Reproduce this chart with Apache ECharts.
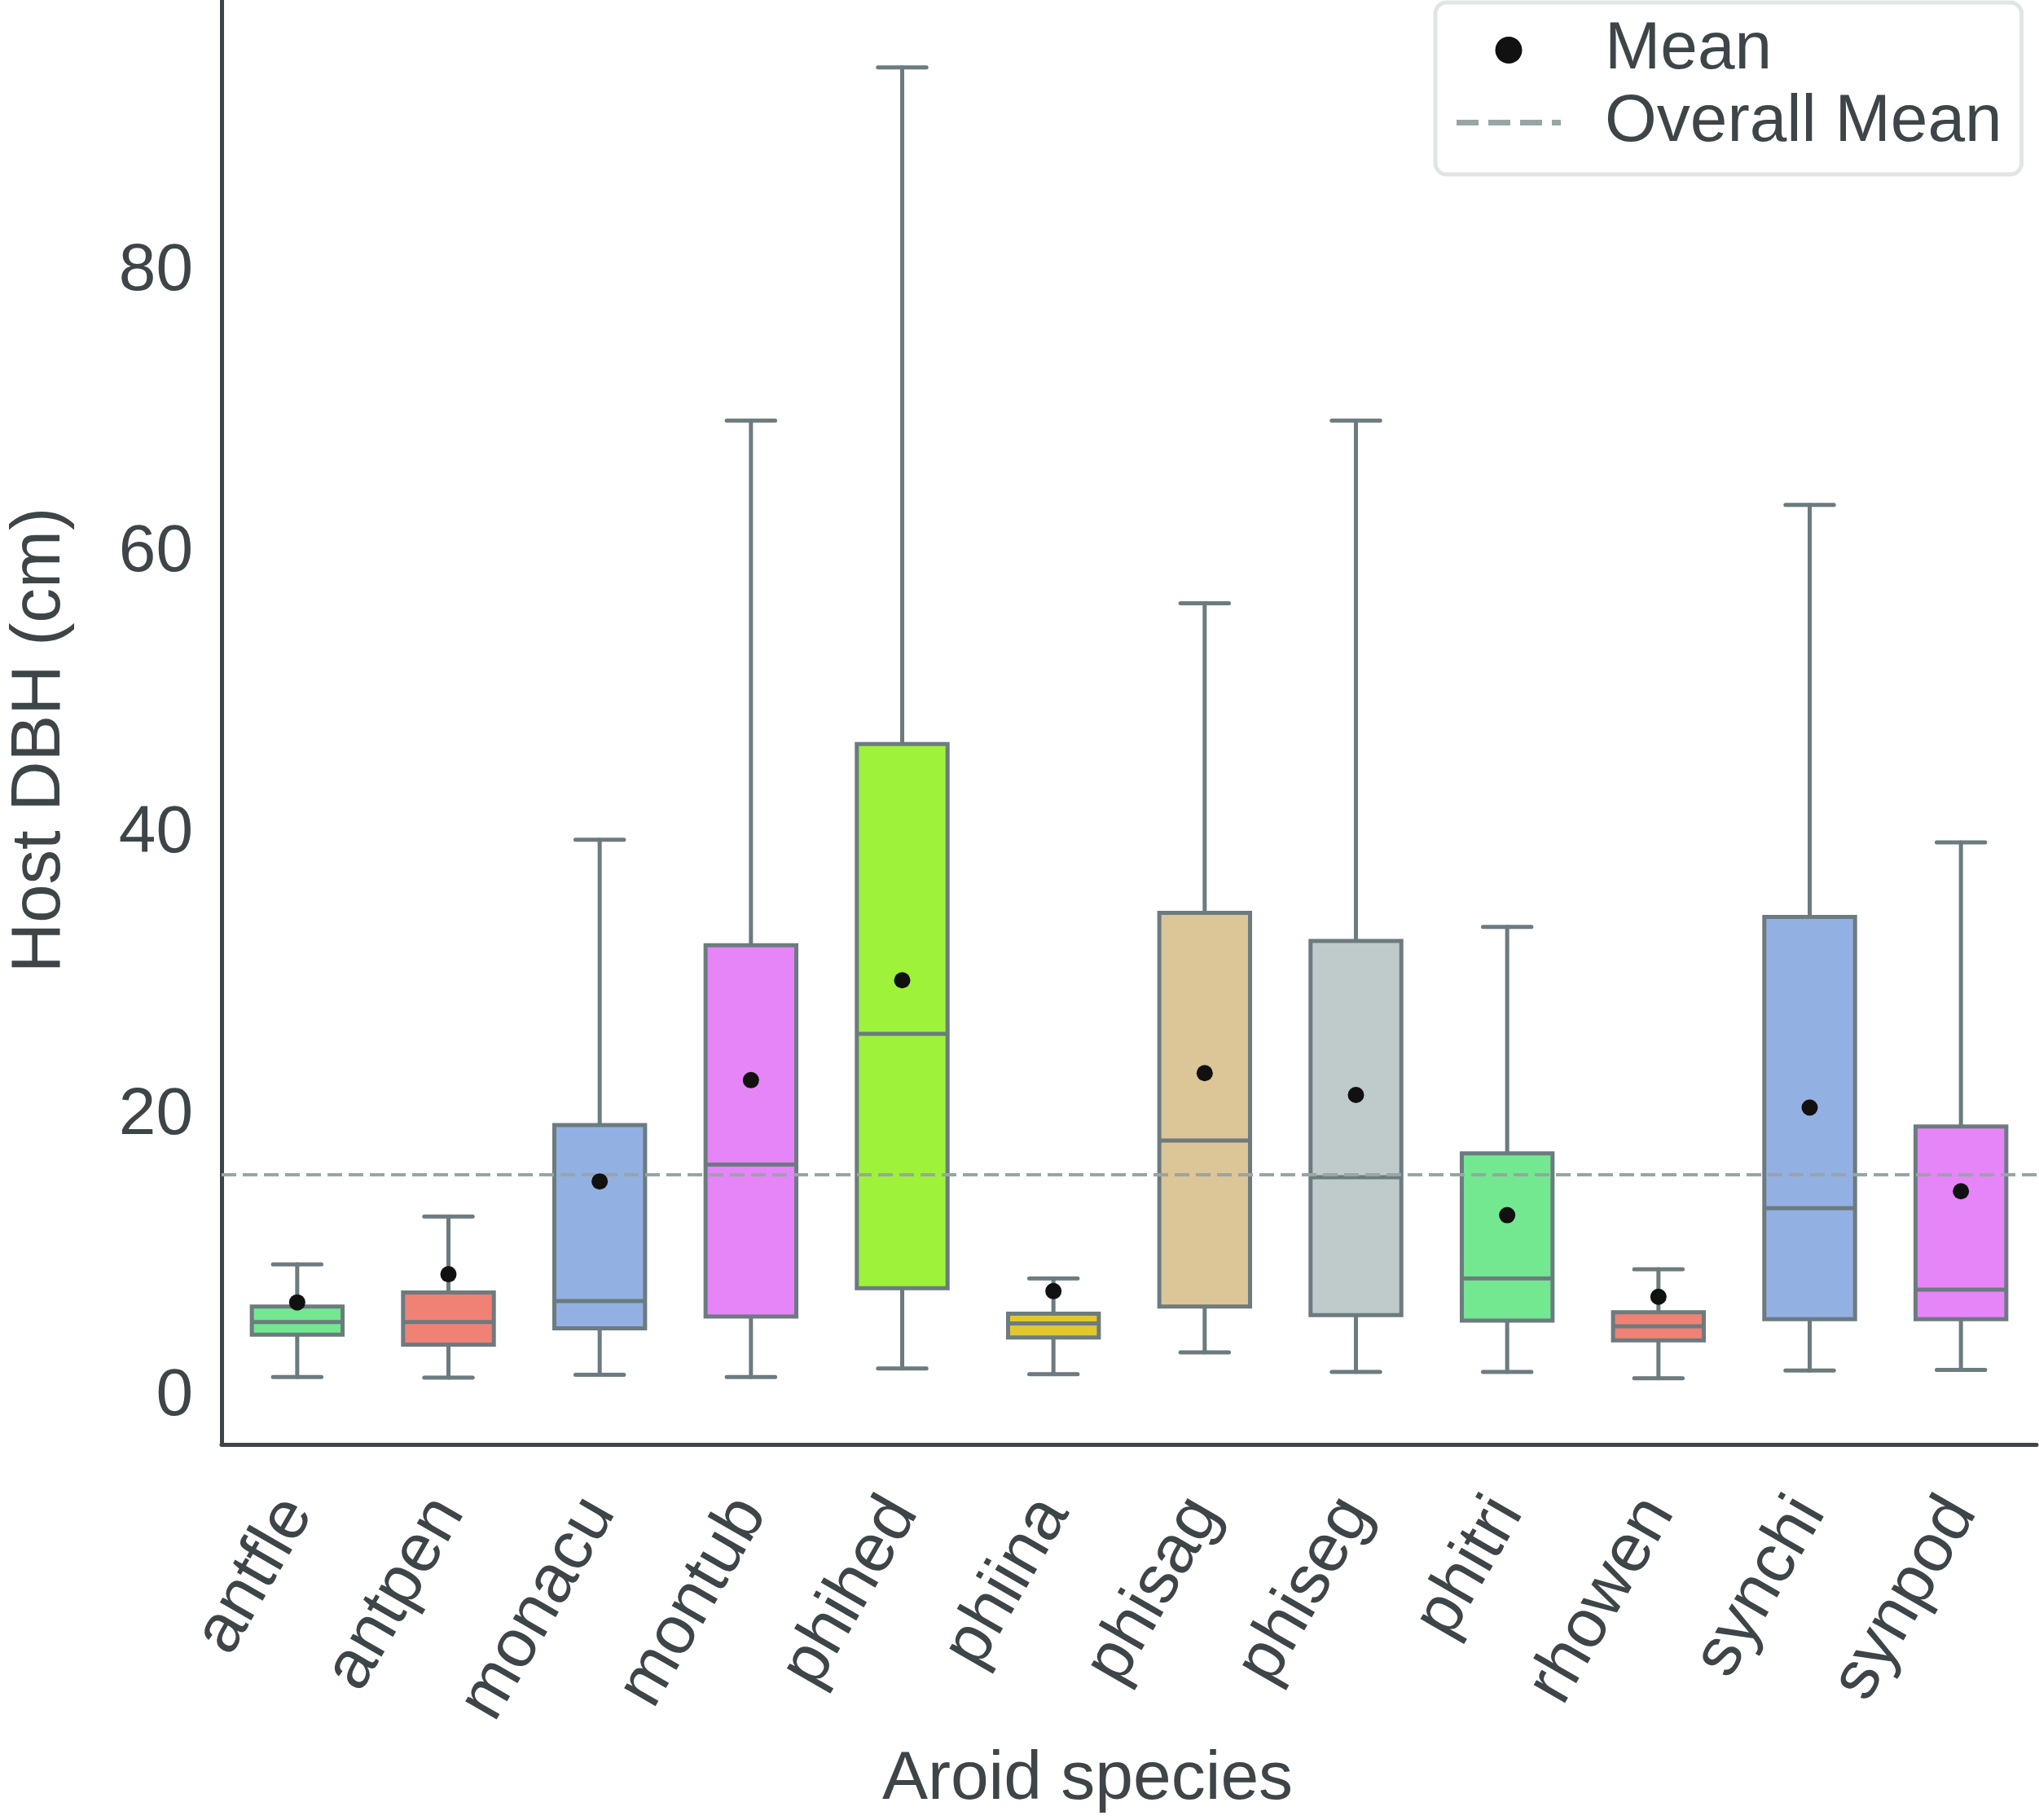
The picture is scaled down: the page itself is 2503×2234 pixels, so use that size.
<!DOCTYPE html>
<html>
<head>
<meta charset="utf-8">
<script src="https://cdn.jsdelivr.net/npm/echarts@6/dist/echarts.min.js"></script>
<style>
  html, body { margin: 0; padding: 0; background: #fff; }
  #chart { width: 2503px; height: 2234px; }
</style>
</head>
<body>
<div id="chart"></div>
<script>
// species and box statistics (cm)
var categories  = ['antfle','antpen','monacu','montub','phihed','phiina','phisag','phiseg','phitri','rhowen','synchi','synpod'];
var whiskerLow  = [1.4, 1.35, 1.55, 1.4, 2.0, 1.6, 3.15, 1.75, 1.75, 1.3, 1.85, 1.9];
var q1          = [4.4, 3.7, 4.85, 5.7, 7.7, 4.2, 6.4, 5.8, 5.4, 4.0, 5.5, 5.5];
var median      = [5.3, 5.3, 6.8, 16.5, 25.8, 5.2, 18.2, 15.6, 8.4, 5.0, 13.4, 7.6];
var q3          = [6.4, 7.4, 19.3, 32.1, 46.4, 5.9, 34.4, 32.4, 17.3, 6.0, 34.1, 19.2];
var whiskerHigh = [9.4, 12.8, 39.6, 69.4, 94.5, 8.4, 56.4, 69.4, 33.4, 9.05, 63.4, 39.4];
var means       = [6.7, 8.7, 15.3, 22.5, 29.6, 7.5, 23.0, 21.45, 12.9, 7.1, 20.55, 14.6];
var overallMean = 15.8;
var yTicks      = [0, 20, 40, 60, 80];
var boxColors   = ['#73e891','#f08275','#93b0e3','#e685f7','#9ef23a','#e0c82e','#dcc596','#bfcbcb','#73e891','#f08275','#93b0e3','#e685f7'];

var textColor = '#3d4548';
var edgeColor = '#6c7b7f';
var font = 'Liberation Sans, Arial, sans-serif';

var boxData = categories.map(function(c, i){
    return [i, whiskerLow[i], q1[i], median[i], q3[i], whiskerHigh[i]];
});
var meanData = categories.map(function(c, i){
    return [i, means[i]];
});

function renderBox(params, api){
    var idx   = api.value(0);
    var band  = api.size([1, 0])[0];
    var boxW  = band * 0.6;
    var capW  = band * 0.32;
    var lo    = api.coord([idx, api.value(1)]);
    var pq1   = api.coord([idx, api.value(2)]);
    var pmed  = api.coord([idx, api.value(3)]);
    var pq3   = api.coord([idx, api.value(4)]);
    var hi    = api.coord([idx, api.value(5)]);
    var x     = lo[0];
    var line  = { stroke: edgeColor, lineWidth: 5, lineCap: 'round' };
    return {
        type: 'group',
        children: [
            { type: 'line', shape: { x1: x, y1: hi[1], x2: x, y2: pq3[1] }, style: line },
            { type: 'line', shape: { x1: x, y1: pq1[1], x2: x, y2: lo[1] }, style: line },
            { type: 'line', shape: { x1: x - capW / 2, y1: hi[1], x2: x + capW / 2, y2: hi[1] }, style: line },
            { type: 'line', shape: { x1: x - capW / 2, y1: lo[1], x2: x + capW / 2, y2: lo[1] }, style: line },
            { type: 'rect', shape: { x: x - boxW / 2, y: pq3[1], width: boxW, height: pq1[1] - pq3[1] },
              style: { fill: boxColors[params.dataIndex], stroke: edgeColor, lineWidth: 5 } },
            { type: 'line', shape: { x1: x - boxW / 2, y1: pmed[1], x2: x + boxW / 2, y2: pmed[1] },
              style: { stroke: edgeColor, lineWidth: 5 } }
        ]
    };
}

var chart = echarts.init(document.getElementById('chart'));
var option = {
    backgroundColor: '#fff',
    animation: false,
    textStyle: { fontFamily: font },
    grid: { left: 272, right: 3, top: 0, bottom: 461, containLabel: false, outerBoundsMode: 'none' },
    legend: {
        orient: 'vertical',
        left: 1762,
        top: 3,
        padding: [14, 24, 19, 26],
        itemGap: 0,
        itemWidth: 128,
        itemHeight: 33,
        backgroundColor: '#fff',
        borderColor: '#dfe5e5',
        borderWidth: 5,
        borderRadius: 14,
        textStyle: { fontSize: 82, color: textColor, fontFamily: font, lineHeight: 89, padding: [0, 0, 0, 49] },
        data: [
            { name: 'Mean', icon: 'circle', itemStyle: { color: '#111111' } },
            { name: 'Overall Mean', icon: 'path://M0,0L27,0L27,7L0,7Z M39,0L66,0L66,7L39,7Z M78,0L105,0L105,7L78,7Z M117,0L128,0L128,7L117,7Z',
              itemStyle: { color: '#98a5a5' }, lineStyle: { width: 0 } }
        ]
    },
    xAxis: {
        type: 'category',
        data: categories,
        boundaryGap: true,
        name: 'Aroid species',
        nameLocation: 'middle',
        nameGap: 370,
        nameTextStyle: { fontSize: 84, color: textColor, fontFamily: font, padding: [0, 102, 0, 0] },
        axisLine: { show: true, onZero: false, lineStyle: { color: textColor, width: 5 } },
        axisTick: { show: false },
        axisLabel: { rotate: 60, fontSize: 84, color: textColor, margin: 72, fontFamily: font, padding: [36, 0, 0, 0] },
        splitLine: { show: false }
    },
    yAxis: {
        type: 'value',
        min: -3.4,
        max: 99.3,
        name: 'Host DBH (cm)',
        nameLocation: 'middle',
        nameGap: 180,
        nameTextStyle: { fontSize: 85, color: textColor, fontFamily: font, padding: [0, 44, 0, 0] },
        axisLine: { show: true, onZero: false, lineStyle: { color: textColor, width: 5 } },
        axisTick: { show: false },
        axisLabel: { fontSize: 82, color: textColor, margin: 35, fontFamily: font, customValues: yTicks },
        splitLine: { show: false }
    },
    series: [
        {
            name: 'boxes',
            type: 'custom',
            renderItem: renderBox,
            encode: { x: 0, y: [1, 2, 3, 4, 5] },
            data: boxData,
            z: 2
        },
        {
            name: 'Overall Mean',
            type: 'line',
            data: [],
            z: 3,
            lineStyle: { color: '#98a5a5', type: 'dashed' },
            markLine: {
                silent: true,
                symbol: 'none',
                label: { show: false },
                lineStyle: { color: '#98a5a5', width: 4, type: [18, 8] },
                data: [{ yAxis: overallMean }],
                z: 3
            }
        },
        {
            name: 'Mean',
            type: 'scatter',
            data: meanData,
            symbol: 'circle',
            symbolSize: 20,
            itemStyle: { color: '#111111', opacity: 1 },
            z: 4
        }
    ]
};
chart.setOption(option);
</script>
</body>
</html>
